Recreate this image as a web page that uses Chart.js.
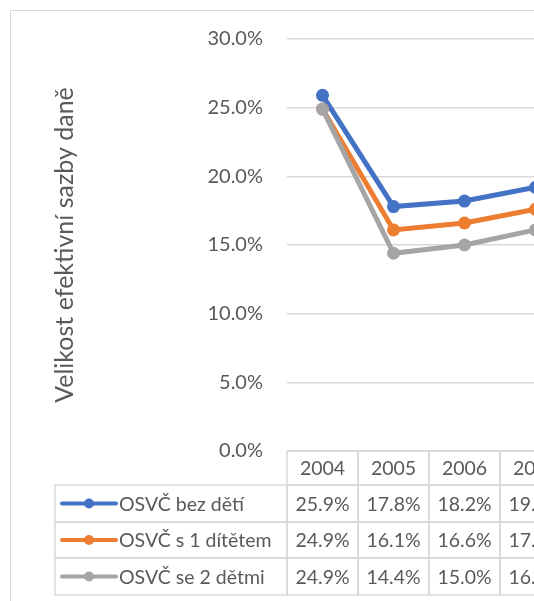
<!DOCTYPE html>
<html>
<head>
<meta charset="utf-8">
<script src="https://cdn.jsdelivr.net/npm/chart.js@4/dist/chart.umd.min.js"></script>
<style>
  html, body { margin: 0; padding: 0; background: #fff; overflow: hidden; }
  #wrap { width: 534px; height: 601px; overflow: hidden; }
</style>
</head>
<body>
<div id="wrap"><canvas id="taxChart" width="600" height="620"></canvas></div>
<script>
// Data
const years = ['2004', '2005', '2006', '2007'];
const bezDeti = [25.9, 17.8, 18.2, 19.2];
const sJednimDitetem = [24.9, 16.1, 16.6, 17.6];
const seDvemaDetmi = [24.9, 14.4, 15.0, 16.1];
const seriesNames = ['OSVČ bez dětí', 'OSVČ s 1 dítětem', 'OSVČ se 2 dětmi'];
const yTitle = 'Velikost efektivní sazby daně';

const colors = ['#4472C4', '#ED7D31', '#A5A5A5'];
const FONT = 'Lato, "Open Sans", sans-serif';
const TEXT = '#595959';
const GRID = '#d9d9d9';

// Excel-like frame + data table under the plot
const tablePlugin = {
    id: 'dataTable',
    beforeDraw(chart) {
        const c = chart.ctx;
        c.save();
        c.strokeStyle = GRID;
        c.lineWidth = 1;
        c.strokeRect(10.5, 10.5, 640, 640);
        c.restore();
    },
    afterDraw(chart) {
        const c = chart.ctx;
        const x = chart.scales.x;
        const area = chart.chartArea;
        const colW = x.width / years.length;
        const top = area.bottom;
        const rows = [top, top + 34, top + 71, top + 107, top + 144];
        const legendLeft = 55;

        c.save();
        c.strokeStyle = GRID;
        c.lineWidth = 1.5;
        // year header cells
        years.forEach((yr, i) => {
            const cx = x.getPixelForValue(i);
            c.strokeRect(cx - colW / 2, rows[0], colW, rows[1] - rows[0]);
        });
        // data rows
        const all = [bezDeti, sJednimDitetem, seDvemaDetmi];
        all.forEach((vals, r) => {
            c.strokeRect(legendLeft, rows[r + 1], area.left - legendLeft, rows[r + 2] - rows[r + 1]);
            vals.forEach((v, i) => {
                const cx = x.getPixelForValue(i);
                c.strokeRect(cx - colW / 2, rows[r + 1], colW, rows[r + 2] - rows[r + 1]);
            });
        });

        c.fillStyle = TEXT;
        c.font = '19.5px ' + FONT;
        c.textBaseline = 'middle';
        c.textAlign = 'center';
        years.forEach((yr, i) => {
            c.fillText(yr, x.getPixelForValue(i), (rows[0] + rows[1]) / 2 + 1);
        });
        all.forEach((vals, r) => {
            const cy = (rows[r + 1] + rows[r + 2]) / 2 + 1;
            vals.forEach((v, i) => {
                c.fillText(v.toFixed(1) + '%', x.getPixelForValue(i), cy);
            });
        });

        // legend keys
        all.forEach((vals, r) => {
            const cy = (rows[r + 1] + rows[r + 2]) / 2;
            c.strokeStyle = colors[r];
            c.lineWidth = 4;
            c.lineCap = 'round';
            c.beginPath();
            c.moveTo(62, cy);
            c.lineTo(116, cy);
            c.stroke();
            c.fillStyle = colors[r];
            c.beginPath();
            c.arc(89, cy, 5, 0, Math.PI * 2);
            c.fill();
            c.fillStyle = TEXT;
            c.textAlign = 'left';
            c.fillText(seriesNames[r], 119, cy + 1);
        });
        c.restore();
    }
};

const datasets = [bezDeti, sJednimDitetem, seDvemaDetmi].map((vals, i) => ({
    label: seriesNames[i],
    data: vals,
    borderColor: colors[i],
    backgroundColor: colors[i],
    borderWidth: 5,
    pointRadius: 6.5,
    pointHoverRadius: 6.5,
    pointBorderWidth: 0,
    tension: 0,
    order: 3 - i
}));

const ctx = document.getElementById('taxChart').getContext('2d');
const chart = new Chart(ctx, {
    type: 'line',
    data: {
        labels: years,
        datasets: datasets
    },
    options: {
        responsive: false,
        animation: false,
        layout: {
            padding: {
                top: 39,
                right: 29,
                bottom: 169,
                left: 0
            }
        },
        scales: {
            x: {
                display: false,
                offset: true
            },
            y: {
                min: 0,
                max: 30,
                afterFit: function(scale) {
                    scale.width = 287;
                },
                border: { display: false },
                grid: {
                    color: GRID,
                    lineWidth: 1.5,
                    drawTicks: false
                },
                ticks: {
                    stepSize: 5,
                    padding: 24,
                    color: TEXT,
                    font: { family: FONT, size: 20 },
                    callback: function(value) {
                        return value.toFixed(1) + '%';
                    }
                },
                title: {
                    display: true,
                    text: yTitle,
                    color: TEXT,
                    font: { family: FONT, size: 25 },
                    padding: { top: 50, bottom: 0 }
                }
            }
        },
        plugins: {
            legend: { display: false },
            tooltip: { enabled: false }
        }
    },
    plugins: [tablePlugin]
});
</script>
</body>
</html>
